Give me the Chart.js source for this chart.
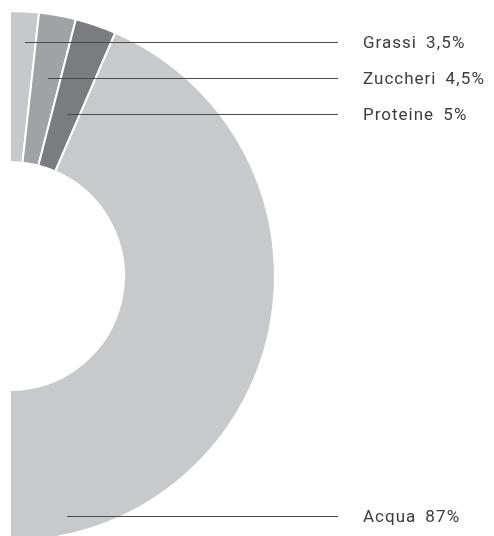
<!DOCTYPE html>
<html lang="it">
<head>
<meta charset="UTF-8">
<title>Composizione</title>
<script src="https://cdn.jsdelivr.net/npm/chart.js"></script>
<style>
  html, body { margin: 0; padding: 0; background: #fff; overflow: hidden; }
  .wrap { position: relative; width: 494px; height: 536px; overflow: hidden; }
  .box { position: absolute; left: 0; top: 0; width: 494px; height: 560px; }
</style>
</head>
<body>
<div class="wrap">
  <div class="box"><canvas id="chart"></canvas></div>
</div>
<script>
// data
const categories = ['Grassi', 'Zuccheri', 'Proteine', 'Acqua'];
const values = [3.5, 4.5, 5, 87];
const valueLabels = ['3,5%', '4,5%', '5%', '87%'];

// where the labels sit (one per slice)
const labelRows = [42, 78, 114, 516];
const lineEndX = 338;
const textX = 363;

// leader lines + labels on the right
const leaderLabels = {
  id: 'leaderLabels',
  afterDatasetsDraw(chart) {
    const ctx = chart.ctx;
    const arcs = chart.getDatasetMeta(0).data;
    ctx.save();
    arcs.forEach((arc, i) => {
      const p = arc.getProps(['x', 'y', 'startAngle', 'endAngle', 'innerRadius'], true);
      const mid = (p.startAngle + p.endAngle) / 2 + Math.PI / 2; // from 12 o'clock
      const y = labelRows[i];
      let x0;
      if (Math.abs(mid) < 1.2) {
        x0 = p.x + (p.y - y) * Math.tan(mid) + 2;
      } else {
        x0 = p.x + p.innerRadius * 0.5;
      }
      ctx.strokeStyle = '#4a4a4a';
      ctx.lineWidth = 1;
      ctx.beginPath();
      ctx.moveTo(x0, y + 0.5);
      ctx.lineTo(lineEndX, y + 0.5);
      ctx.stroke();

      ctx.fillStyle = '#3c3c3c';
      ctx.font = '17px Roboto';
      ctx.letterSpacing = '1px';
      ctx.textBaseline = 'middle';
      ctx.textAlign = 'left';
      ctx.fillText(categories[i], textX, y + 1.5);
      const w = ctx.measureText(categories[i]).width;
      ctx.letterSpacing = '1.2px';
      ctx.fillText(valueLabels[i], textX + w + 9, y + 1.5);
    });
    ctx.restore();
  }
};

new Chart(document.getElementById('chart'), {
  type: 'doughnut',
  data: {
    labels: categories,
    datasets: [{
      data: values,
      backgroundColor: ['#c7c8ca', '#a1a2a5', '#7b7c7f', '#c8c9cb'],
      borderColor: '#ffffff',
      borderWidth: 2,
      hoverOffset: 0
    }]
  },
  options: {
    responsive: true,
    maintainAspectRatio: false,
    animation: false,
    rotation: 0,
    circumference: 180,
    cutout: '43%',
    layout: { padding: { left: 9, top: 10, right: 218, bottom: 18 } },
    plugins: {
      legend: { display: false },
      tooltip: { enabled: false }
    }
  },
  plugins: [leaderLabels]
});
</script>
</body>
</html>
